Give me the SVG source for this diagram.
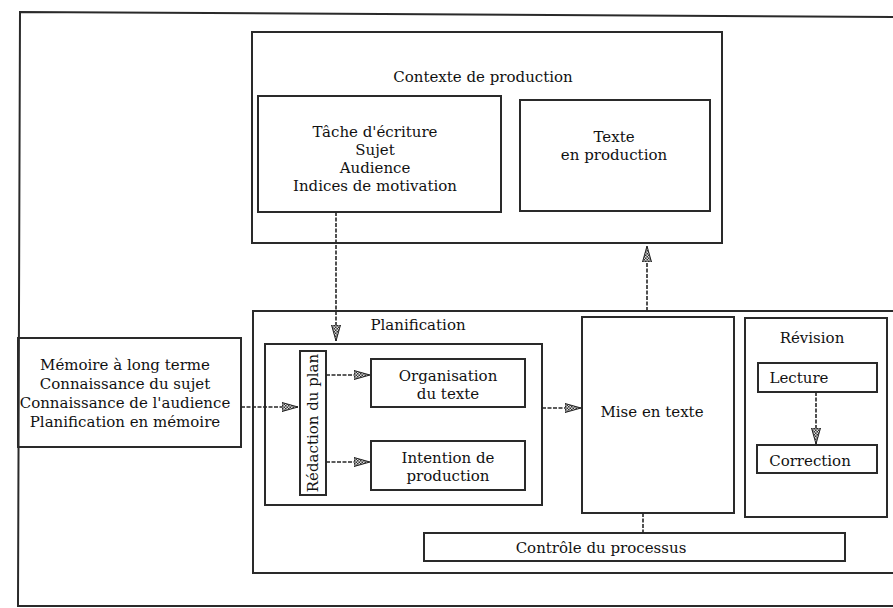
<svg xmlns="http://www.w3.org/2000/svg" width="893" height="608" viewBox="0 0 893 608">
<defs>
<pattern id="chk" width="3" height="3" patternUnits="userSpaceOnUse">
<rect width="3" height="3" fill="#ddd"/>
<rect width="1.5" height="1.5" fill="#333"/>
<rect x="1.5" y="1.5" width="1.5" height="1.5" fill="#333"/>
</pattern>
<marker id="ah" viewBox="0 0 16 10" refX="16" refY="5" markerWidth="16" markerHeight="10" markerUnits="userSpaceOnUse" orient="auto">
<path d="M0,0.5 L16,5 L0,9.5 Z" fill="url(#chk)" stroke="#222" stroke-width="1"/>
</marker>
</defs>
<style>
.b{fill:none;stroke:#2a2a2a;stroke-width:2}
.c{fill:none;stroke:#262626;stroke-width:1.6;stroke-dasharray:4 1.5}
.t{font-family:'DejaVu Serif','Liberation Serif',serif;font-size:15px;fill:#111;text-anchor:middle}
</style>
<rect width="893" height="608" fill="#fff"/>
<g id="frame"><path class="b" d="M905,17 L20,12 L18,606 L905,606"/></g>
<g id="contexte">
<rect class="b" x="252" y="32" width="470" height="211"/>
<text class="t" x="483" y="82">Contexte de production</text>
</g>
<g id="tache">
<rect class="b" x="258" y="96" width="243" height="116"/>
<text class="t" x="375" y="137">Tâche d'écriture</text>
<text class="t" x="375" y="155">Sujet</text>
<text class="t" x="375" y="173">Audience</text>
<text class="t" x="375" y="191">Indices de motivation</text>
</g>
<g id="texte">
<rect class="b" x="520" y="100" width="190" height="111"/>
<text class="t" x="614" y="142">Texte</text>
<text class="t" x="614" y="160">en production</text>
</g>
<g id="memoire">
<rect class="b" x="18" y="338" width="223" height="109"/>
<text class="t" x="125" y="370">Mémoire à long terme</text>
<text class="t" x="125" y="389">Connaissance du sujet</text>
<text class="t" x="125" y="408">Connaissance de l'audience</text>
<text class="t" x="125" y="427">Planification en mémoire</text>
</g>
<g id="processus">
<rect class="b" x="253" y="311" width="660" height="262"/>
</g>
<g id="planification">
<text class="t" x="418" y="330">Planification</text>
<rect class="b" x="265" y="344" width="277" height="161"/>
</g>
<g id="redaction">
<rect class="b" x="300" y="351" width="26" height="144"/>
<text class="t" transform="translate(318,423) rotate(-90)">Rédaction du plan</text>
</g>
<g id="organisation">
<rect class="b" x="371" y="359" width="154" height="48"/>
<text class="t" x="448" y="381">Organisation</text>
<text class="t" x="448" y="399">du texte</text>
</g>
<g id="intention">
<rect class="b" x="371" y="441" width="154" height="49"/>
<text class="t" x="448" y="463">Intention de</text>
<text class="t" x="448" y="481">production</text>
</g>
<g id="mise">
<rect class="b" x="582" y="317" width="152" height="196"/>
<text class="t" x="652" y="417">Mise en texte</text>
</g>
<g id="revision">
<rect class="b" x="745" y="318" width="142" height="199"/>
<text class="t" x="812" y="343">Révision</text>
</g>
<g id="lecture">
<rect class="b" x="758" y="363" width="119" height="29"/>
<text class="t" x="799" y="383">Lecture</text>
</g>
<g id="correction">
<rect class="b" x="757" y="445" width="120" height="28"/>
<text class="t" x="810" y="466">Correction</text>
</g>
<g id="controle">
<rect class="b" x="424" y="533" width="421" height="28"/>
<text class="t" x="601" y="553">Contrôle du processus</text>
</g>
<g id="connectors">
<line class="c" x1="336" y1="212" x2="336" y2="341" marker-end="url(#ah)"/>
<line class="c" x1="241" y1="407" x2="298" y2="407" marker-end="url(#ah)"/>
<line class="c" x1="326" y1="375" x2="370" y2="375" marker-end="url(#ah)"/>
<line class="c" x1="326" y1="462" x2="370" y2="462" marker-end="url(#ah)"/>
<line class="c" x1="542" y1="408" x2="581" y2="408" marker-end="url(#ah)"/>
<line class="c" x1="647" y1="311" x2="647" y2="246" marker-end="url(#ah)"/>
<line class="c" x1="816" y1="392" x2="816" y2="444" marker-end="url(#ah)"/>
<line class="c" x1="643" y1="513" x2="643" y2="533"/>
</g>
</svg>
